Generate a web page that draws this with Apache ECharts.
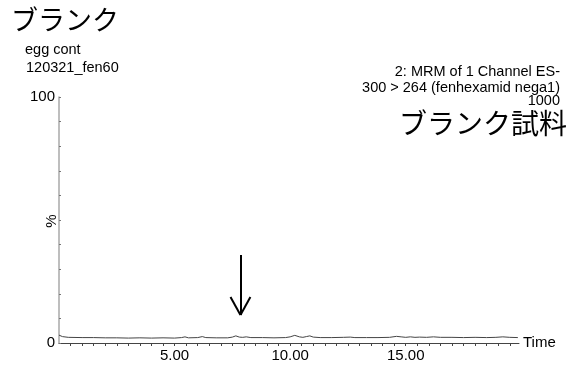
<!DOCTYPE html>
<html><head><meta charset="utf-8">
<script src="https://cdn.jsdelivr.net/npm/echarts@6/dist/echarts.min.js"></script>
<style>html,body{margin:0;padding:0;background:#fff}#c{width:581px;height:367px}</style>
</head><body><div id="c"></div>
<script>
// Data
var times = [0.0,0.15,0.4,1.0,1.5,2.0,2.5,3.0,3.5,4.0,4.5,5.0,5.3,5.45,5.6,6.0,6.2,6.35,6.8,7.3,7.5,7.65,7.8,7.95,8.1,8.3,8.8,9.3,9.8,10.0,10.2,10.4,10.55,10.7,10.85,11.0,11.3,11.8,12.3,12.6,12.8,13.3,13.8,14.3,14.6,14.8,15.0,15.2,15.4,15.6,15.9,16.2,16.5,17.0,17.5,18.0,18.5,18.9,19.2,19.5,19.85];
var intensity = [3.2,2.6,2.3,2.2,2.2,2.1,2.1,2.0,2.1,2.0,2.1,2.0,2.2,2.5,2.1,2.2,2.6,2.2,2.1,2.1,2.4,2.9,2.4,2.3,2.5,2.2,2.2,2.1,2.2,2.5,3.1,2.5,2.3,2.6,2.9,2.4,2.2,2.2,2.3,2.4,2.2,2.2,2.2,2.3,2.7,2.5,2.3,2.5,2.3,2.4,2.3,2.5,2.3,2.3,2.2,2.3,2.2,2.3,2.5,2.3,2.2];
var xTickLabels = ['5.00','10.00','15.00'];
var yTickLabels = ['0','100'];
var arrowTime = 7.85, arrowTop = 35.8, arrowTip = 11.4, arrowWingY = 18.7, arrowWingDx = 0.43;

var chart = echarts.init(document.getElementById('c'));
var font = 'Liberation Sans, Arial, sans-serif';
var jp = '"Noto Sans CJK JP", sans-serif';
var fs = 14.5;
var pts = times.map(function(t,i){return [t,intensity[i]];});
chart.setOption({
  animation:false,
  grid:{left:59,right:62,top:97,bottom:24},
  xAxis:{type:'value',min:0,max:19.9,interval:0.5,
    name:'Time',nameLocation:'end',nameGap:4,
    nameTextStyle:{color:'#000',fontFamily:font,fontSize:15,verticalAlign:'middle'},
    axisLine:{lineStyle:{color:'#444',width:1}},
    axisTick:{length:3,lineStyle:{color:'#444'}},
    splitLine:{show:false},
    axisLabel:{color:'#000',fontFamily:font,fontSize:15,margin:5,showMinLabel:false,showMaxLabel:false,
      formatter:function(v){var s=v.toFixed(2);return xTickLabels.indexOf(s)>=0?s:'';}}},
  yAxis:{type:'value',min:0,max:100,interval:10,
    axisLine:{show:true,lineStyle:{color:'#a8a8a8',width:1.5}},
    axisTick:{show:true,inside:true,length:2,lineStyle:{color:'#777'}},
    splitLine:{show:false},
    axisLabel:{color:'#000',fontFamily:font,fontSize:15,margin:4,
      formatter:function(v){var s=String(v);return yTickLabels.indexOf(s)>=0?s:'';}}},
  series:[{type:'line',data:pts,showSymbol:false,smooth:false,
    lineStyle:{color:'#444',width:1},
    markLine:{silent:true,symbol:['none','none'],label:{show:false},
      lineStyle:{color:'#000',width:2,type:'solid'},
      data:[
        [{coord:[arrowTime,arrowTop]},{coord:[arrowTime,arrowTip]}],
        [{coord:[arrowTime-arrowWingDx,arrowWingY]},{coord:[arrowTime,arrowTip]}],
        [{coord:[arrowTime+arrowWingDx,arrowWingY]},{coord:[arrowTime,arrowTip]}]
      ]}}],
  graphic:[
    {type:'text',left:11,top:6,style:{text:'ブランク',font:'27px '+jp,fill:'#000'}},
    {type:'text',left:25,top:42,style:{text:'egg cont',font:fs+'px '+font,fill:'#000'}},
    {type:'text',left:26,top:60,style:{text:'120321_fen60',font:fs+'px '+font,fill:'#000'}},
    {type:'text',x:52,y:221,rotation:Math.PI/2,style:{text:'%',font:'15px '+font,fill:'#000',align:'center',verticalAlign:'middle'}},
    {type:'text',right:21,top:64,style:{text:'2: MRM of 1 Channel ES-',font:fs+'px '+font,fill:'#000',align:'right'}},
    {type:'text',right:21,top:80,style:{text:'300 > 264 (fenhexamid nega1)',font:fs+'px '+font,fill:'#000',align:'right'}},
    {type:'text',right:21,top:93,style:{text:'1000',font:fs+'px '+font,fill:'#000',align:'right'}},
    {type:'text',right:14,top:109,style:{text:'ブランク試料',font:'28px '+jp,fill:'#000',align:'right'}}
  ]
});
</script></body></html>
